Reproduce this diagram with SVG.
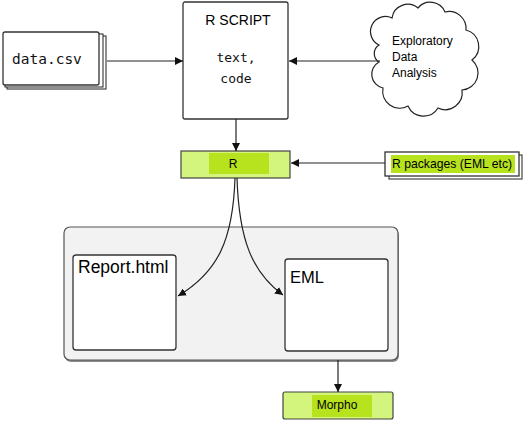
<svg xmlns="http://www.w3.org/2000/svg" width="529" height="424" viewBox="0 0 529 424">
<style>
.box{fill:#fff;stroke:#333;stroke-width:1.3}
.green{fill:#d3f57e;stroke:#444;stroke-width:1.2}
.hi{fill:#b7e21e;stroke:none}
.con{fill:none;stroke:#222;stroke-width:1.2}
.sans{font-family:"Liberation Sans",Arial,sans-serif;fill:#000}
.mono{font-family:"DejaVu Sans Mono","Liberation Mono",monospace;fill:#111}
</style>
<defs>
<marker id="ah" viewBox="0 0 10 10" refX="10" refY="5" markerWidth="8" markerHeight="8" markerUnits="userSpaceOnUse" orient="auto">
<path d="M0,0 L10,5 L0,10 Z" fill="#111"/>
</marker>
</defs>
<rect width="529" height="424" fill="#fff"/>

<g id="container">
<rect x="65" y="229" width="334" height="133" rx="6" fill="#8a8a8a"/>
<rect x="64" y="227" width="334" height="133" rx="6" fill="#f2f2f2" stroke="#555" stroke-width="1.2"/>
</g>

<g id="data-csv">
<rect x="7" y="36" width="99" height="53" fill="#fff" stroke="#333" stroke-width="1.1"/>
<rect x="5" y="34" width="98" height="53" fill="#fff" stroke="#333" stroke-width="1.1"/>
<rect x="3" y="32" width="96" height="53" rx="2" class="box"/>
<text x="12" y="64" class="mono" font-size="14.5">data.csv</text>
</g>

<g id="r-script">
<rect x="183" y="2" width="105" height="117" rx="2" class="box"/>
<text x="238" y="25" class="sans" font-size="14" text-anchor="middle">R SCRIPT</text>
<text x="236" y="62" class="mono" font-size="13" text-anchor="middle">text,</text>
<text x="236" y="83" class="mono" font-size="13" text-anchor="middle">code</text>
</g>

<g id="eda">
<path d="M379,45 A14,14 0 0 1 392,18 A16,16 0 0 1 418,8 A16,16 0 0 1 445,12 A17,17 0 0 1 466,30 A17,17 0 0 1 472,60 A17,17 0 0 1 462,90 A17,17 0 0 1 438,108 A17,17 0 0 1 408,106 A17,17 0 0 1 383,88 A14,14 0 0 1 379,62 A10,10 0 0 1 379,45 Z" fill="#fff" stroke="#222" stroke-width="1.2"/>
<text x="392" y="45" class="sans" font-size="12">Exploratory</text>
<text x="392" y="61" class="sans" font-size="12">Data</text>
<text x="392" y="77" class="sans" font-size="12">Analysis</text>
</g>

<g id="r">
<rect x="181" y="151" width="109" height="27" class="green"/>
<rect x="209" y="153" width="60" height="21" class="hi"/>
<text x="233" y="168" class="sans" font-size="12" text-anchor="middle">R</text>
</g>

<g id="r-packages">
<rect x="389" y="155" width="133" height="24" fill="#fff" stroke="#333" stroke-width="1.1"/>
<rect x="385" y="152" width="134" height="24" class="box"/>
<rect x="391" y="155" width="124" height="18" class="hi"/>
<text x="392" y="168" class="sans" font-size="12.2">R packages (EML etc)</text>
</g>

<g id="report-html">
<rect x="73" y="255" width="103" height="95" rx="3" class="box"/>
<text x="78" y="273" class="sans" font-size="17.5">Report.html</text>
</g>

<g id="eml">
<rect x="285" y="259" width="103" height="92" rx="3" class="box"/>
<text x="290" y="283" class="sans" font-size="16.5">EML</text>
</g>

<g id="morpho">
<rect x="283" y="392" width="110" height="27" rx="2" class="green"/>
<rect x="312" y="395" width="60" height="22" class="hi"/>
<text x="337" y="409" class="sans" font-size="12" text-anchor="middle">Morpho</text>
</g>

<g id="connectors">
<line x1="107" y1="61" x2="183" y2="61" class="con" marker-end="url(#ah)"/>
<line x1="380" y1="61" x2="289" y2="61" class="con" marker-end="url(#ah)"/>
<line x1="236" y1="119" x2="236" y2="151" class="con" marker-end="url(#ah)"/>
<line x1="385" y1="163" x2="291" y2="163" class="con" marker-end="url(#ah)"/>
<path d="M235,178 C233,240 218,272 178,296" class="con" marker-end="url(#ah)"/>
<path d="M237,178 C239,240 252,272 283,295" class="con" marker-end="url(#ah)"/>
<line x1="338" y1="360" x2="338" y2="392" class="con" marker-end="url(#ah)"/>
</g>
</svg>
